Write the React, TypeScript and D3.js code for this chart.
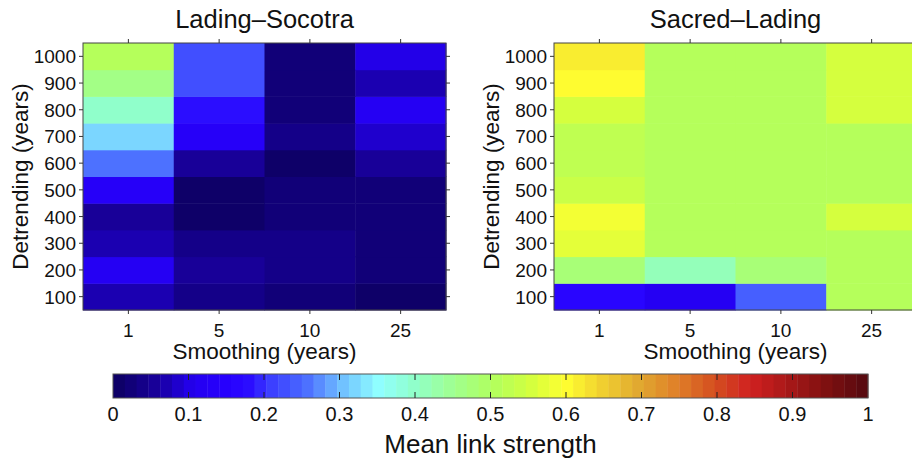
import React from "react";
import * as d3 from "d3";

const smoothing = ["1", "5", "10", "25"];
const detrending = ["100", "200", "300", "400", "500", "600", "700", "800", "900", "1000"];

// rows: detrending 100..1000, columns: smoothing 1,5,10,25
const ladingSocotra = [
  [0.065, 0.045, 0.03, 0.015],
  [0.12, 0.055, 0.035, 0.02],
  [0.075, 0.04, 0.035, 0.02],
  [0.06, 0.012, 0.02, 0.02],
  [0.13, 0.012, 0.02, 0.02],
  [0.25, 0.06, 0.012, 0.06],
  [0.32, 0.13, 0.04, 0.08],
  [0.40, 0.18, 0.03, 0.12],
  [0.46, 0.22, 0.03, 0.07],
  [0.50, 0.22, 0.03, 0.10],
];
const sacredLading = [
  [0.16, 0.12, 0.24, 0.50],
  [0.48, 0.42, 0.48, 0.50],
  [0.57, 0.50, 0.50, 0.50],
  [0.58, 0.50, 0.515, 0.56],
  [0.54, 0.50, 0.50, 0.50],
  [0.52, 0.50, 0.50, 0.50],
  [0.53, 0.50, 0.50, 0.51],
  [0.55, 0.50, 0.50, 0.55],
  [0.60, 0.50, 0.50, 0.56],
  [0.61, 0.50, 0.50, 0.56],
];
const colorbarTicks = [0, 0.1, 0.2, 0.3, 0.4, 0.5, 0.6, 0.7, 0.8, 0.9, 1];

const cmapStops = [0, 0.05, 0.1, 0.15, 0.18, 0.2, 0.25, 0.3, 0.35, 0.4, 0.45, 0.5, 0.55, 0.6, 0.65, 0.7, 0.75, 0.8, 0.85, 0.9, 0.95, 1];
const cmapColors = ["#0e0068", "#18009a", "#2400f0", "#2800ff", "#2c10ff", "#3a3aff", "#4a6aff", "#70c0ff", "#90ffff", "#90ffc8", "#a0ff90", "#b0ff60", "#d0ff40", "#ffff30", "#f0d030", "#e0a830", "#e08028", "#d45020", "#d02020", "#a81818", "#801010", "#5a0a10"];

const lin = d3.scaleLinear<string>().domain(cmapStops).range(cmapColors).interpolate(d3.interpolateRgb).clamp(true);
const NLEV = 64;
const cmap = (v: number) => {
  const idx = Math.min(NLEV - 1, Math.max(0, Math.floor(v * NLEV)));
  return lin(idx / (NLEV - 1));
};

const FONT = "'Liberation Sans', Arial, Helvetica, sans-serif";

function Heatmap({ x0, title, data }: { x0: number; title: string; data: number[][] }) {
  const w = 363, top = 43, bottom = 310;
  const xs = d3.scaleBand().domain(smoothing).range([x0, x0 + w]);
  const ys = d3.scaleBand().domain(detrending).range([bottom, top]);
  const cx = x0 + w / 2;
  const cy = (top + bottom) / 2;
  return (
    <g>
      <text x={cx} y={28} textAnchor="middle" fontSize={25.5} fontFamily={FONT} fill="#111">{title}</text>
      {data.map((row, ri) =>
        row.map((v, ci) => (
          <rect key={`${ri}-${ci}`} x={xs(smoothing[ci])} y={ys(detrending[ri])} width={xs.bandwidth() + 0.5} height={ys.bandwidth() + 0.5} fill={cmap(v)} />
        ))
      )}
      <rect x={x0} y={top} width={w} height={bottom - top} fill="none" stroke="#444" strokeWidth={1} />
      {smoothing.map((s) => {
        const x = (xs(s) as number) + xs.bandwidth() / 2;
        return (
          <g key={s}>
            <line x1={x} x2={x} y1={top} y2={top - 4} stroke="#333" />
            <line x1={x} x2={x} y1={bottom} y2={bottom + 4} stroke="#333" />
            <text x={x} y={337} textAnchor="middle" fontSize={19} fontFamily={FONT} fill="#111">{s}</text>
          </g>
        );
      })}
      {detrending.map((d) => {
        const y = (ys(d) as number) + ys.bandwidth() / 2;
        return (
          <g key={d}>
            <line x1={x0} x2={x0 - 4} y1={y} y2={y} stroke="#333" />
            <line x1={x0 + w} x2={x0 + w + 4} y1={y} y2={y} stroke="#333" />
            <text x={x0 - 7} y={y + 7} textAnchor="end" fontSize={19} fontFamily={FONT} fill="#111">{d}</text>
          </g>
        );
      })}
      <text x={cx} y={359} textAnchor="middle" fontSize={22.5} fontFamily={FONT} fill="#111">Smoothing (years)</text>
      <text transform={`translate(${x0 - 55},${cy}) rotate(-90)`} textAnchor="middle" fontSize={22.5} fontFamily={FONT} fill="#111">Detrending (years)</text>
    </g>
  );
}

function Colorbar() {
  const x0 = 113, x1 = 868, top = 374, bottom = 398;
  const sx = d3.scaleLinear().domain([0, 1]).range([x0, x1]);
  const levels = d3.range(NLEV);
  return (
    <g>
      {levels.map((i) => (
        <rect key={i} x={sx(i / NLEV)} y={top} width={sx((i + 1) / NLEV) - sx(i / NLEV) + 0.4} height={bottom - top} fill={lin(i / (NLEV - 1))} />
      ))}
      <rect x={x0} y={top} width={x1 - x0} height={bottom - top} fill="none" stroke="#555" strokeWidth={1} />
      {colorbarTicks.map((t) => (
        <g key={t}>
          {t > 0 && t < 1 && (
            <>
              <line x1={sx(t)} x2={sx(t)} y1={top} y2={top + 6} stroke="#222" />
              <line x1={sx(t)} x2={sx(t)} y1={bottom} y2={bottom - 6} stroke="#222" />
            </>
          )}
          <text x={sx(t)} y={421} textAnchor="middle" fontSize={20} fontFamily="'Liberation Sans Narrow', 'Liberation Sans', Arial, sans-serif" fill="#111">{String(t)}</text>
        </g>
      ))}
      <text x={(x0 + x1) / 2} y={453} textAnchor="middle" fontSize={26} fontFamily={FONT} fill="#111">Mean link strength</text>
    </g>
  );
}

export default function App() {
  return (
    <svg width={912} height={462} style={{ position: "absolute", left: 0, top: 0, background: "#fff" }}>
      <rect width={912} height={462} fill="#fff" />
      <Heatmap x0={83} title="Lading–Socotra" data={ladingSocotra} />
      <Heatmap x0={554} title="Sacred–Lading" data={sacredLading} />
      <Colorbar />
    </svg>
  );
}
